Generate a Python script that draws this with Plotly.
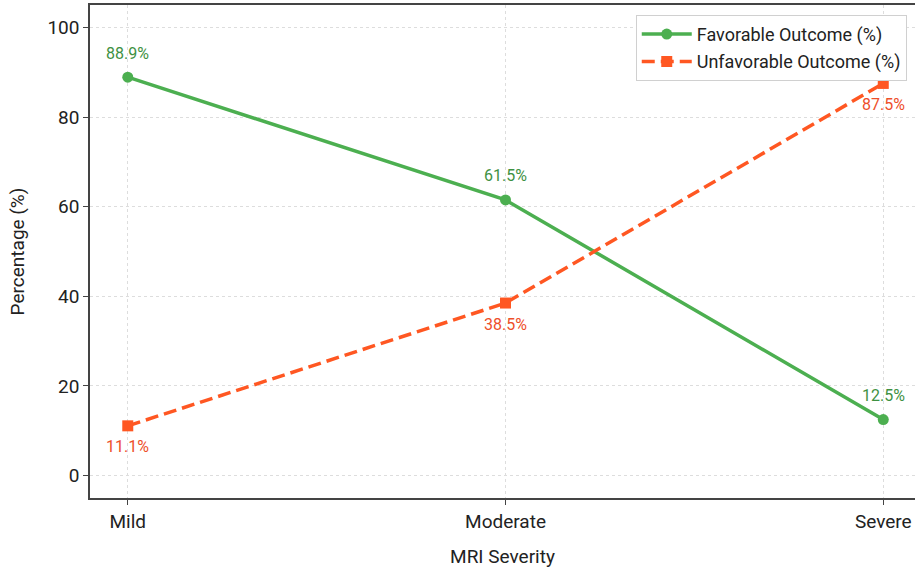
import plotly.graph_objects as go

categories = ["Mild", "Moderate", "Severe"]
favorable = [88.9, 61.5, 12.5]
unfavorable = [11.1, 38.5, 87.5]
y_ticks = [0, 20, 40, 60, 80, 100]

GREEN = "#4CAF50"
ORANGE = "#FF5722"
GREEN_TXT = "#3E9142"
ORANGE_TXT = "#EE4F2A"
FONT = "Roboto, Open Sans, sans-serif"

x_idx = list(range(len(categories)))

fig = go.Figure()
fig.add_trace(go.Scatter(
    x=x_idx, y=favorable, mode="lines+markers", name="Favorable Outcome (%)",
    legendgroup="fav",
    line=dict(color=GREEN, width=3.5),
    marker=dict(symbol="circle", size=11, color=GREEN),
))
fig.add_trace(go.Scatter(
    x=x_idx, y=unfavorable, mode="lines+markers", name="Unfavorable Outcome (%)",
    legendgroup="unfav",
    line=dict(color=ORANGE, width=3.5, dash="13px,6px"),
    marker=dict(symbol="square", size=11, color=ORANGE),
))

for xi, v in zip(x_idx, favorable):
    fig.add_annotation(x=xi, y=v, text=f"{v}%", showarrow=False, yshift=24,
                       font=dict(family=FONT, size=16, color=GREEN_TXT))
for xi, v in zip(x_idx, unfavorable):
    fig.add_annotation(x=xi, y=v, text=f"{v}%", showarrow=False, yshift=-21,
                       font=dict(family=FONT, size=16, color=ORANGE_TXT))

fig.update_layout(
    width=915, height=573,
    margin=dict(l=90, r=0, t=5, b=75, autoexpand=False),
    paper_bgcolor="white", plot_bgcolor="white",
    font=dict(family=FONT, size=17, color="#222222"),
    showlegend=True,
    legend=dict(
        x=0.990, y=0.980, xanchor="right", yanchor="top",
        bgcolor="white", bordercolor="#D0D0D0", borderwidth=1,
        font=dict(family=FONT, size=18, color="#222222"),
        itemwidth=50, tracegroupgap=1,
    ),
    xaxis=dict(
        range=[-0.1, 2.084], automargin=False,
        tickmode="array", tickvals=x_idx, ticktext=categories,
        showgrid=True, gridcolor="#DDDDDD", griddash="dot", gridwidth=1,
        showline=True, linecolor="#444444", linewidth=1.5, mirror=True,
        ticks="outside", ticklen=5, tickcolor="#444444",
        tickfont=dict(family=FONT, size=19, color="#222222"),
        title=dict(text="MRI Severity", font=dict(family=FONT, size=19, color="#222222"), standoff=18),
        zeroline=False,
    ),
    yaxis=dict(
        range=[-5, 105], automargin=False,
        tickmode="array", tickvals=y_ticks,
        showgrid=True, gridcolor="#DDDDDD", griddash="dot", gridwidth=1,
        showline=True, linecolor="#444444", linewidth=1.5, mirror=True,
        ticks="outside", ticklen=5, tickcolor="#444444",
        tickfont=dict(family=FONT, size=19, color="#222222"),
        title=dict(text="Percentage (%)", font=dict(family=FONT, size=19, color="#222222"), standoff=18),
        zeroline=False,
    ),
)

fig.write_html("out.html", config={"displayModeBar": False},
               post_script="document.body.style.margin='0';")
